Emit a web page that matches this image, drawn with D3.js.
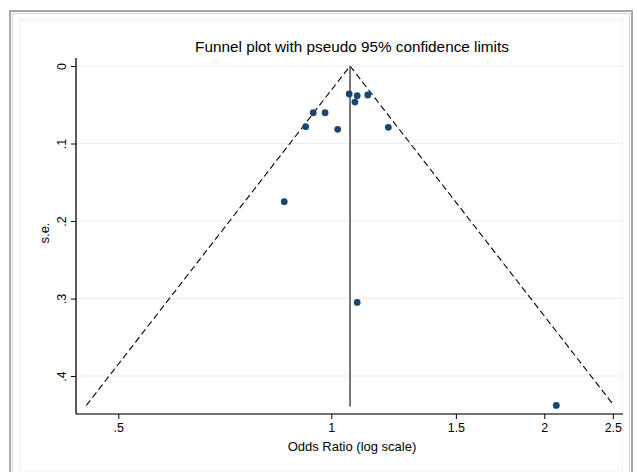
<!DOCTYPE html>
<html>
<head>
<meta charset="utf-8">
<script src="https://cdn.jsdelivr.net/npm/d3@7"></script>
<style>
  html, body { margin: 0; padding: 0; background: #fff; }
  svg { display: block; font-family: "Liberation Sans", Arial, sans-serif; }
</style>
</head>
<body>
<svg id="chart" width="637" height="472"></svg>
<script>
// ---- data ----
const studyOR = [1.060, 1.088, 1.126, 1.080, 0.943, 0.980, 0.920, 1.021, 1.204, 0.858, 1.088, 2.080];
const studySE = [0.0361, 0.0383, 0.0374, 0.0465, 0.0603, 0.0603, 0.0783, 0.0817, 0.0791, 0.175, 0.305, 0.438];
const pooledOR = 1.063;
const xTicks = [0.5, 1, 1.5, 2, 2.5];
const xTickLabels = [".5", "1", "1.5", "2", "2.5"];
const yTicks = [0, 0.1, 0.2, 0.3, 0.4];
const yTickLabels = ["0", ".1", ".2", ".3", ".4"];
const titleText = "Funnel plot with pseudo 95% confidence limits";
const xTitle = "Odds Ratio (log scale)";
const yTitle = "s.e.";

const svg = d3.select("#chart");
const W = 637, H = 472;

// ---- outer graph frame (Stata style) ----
svg.append("rect").attr("x", 0).attr("y", 0).attr("width", W).attr("height", H).attr("fill", "#fff");
svg.append("rect").attr("x", 10).attr("y", 11).attr("width", 622).attr("height", 480)
  .attr("fill", "none").attr("stroke", "#a6a6a6").attr("stroke-width", 2);
svg.append("rect").attr("x", 12.5).attr("y", 13.5).attr("width", 617).attr("height", 475)
  .attr("fill", "none").attr("stroke", "#d4d4d4").attr("stroke-width", 1);
svg.append("rect").attr("x", 19.5).attr("y", 19.5).attr("width", 603).attr("height", 451.5)
  .attr("fill", "none").attr("stroke", "#eef3f3").attr("stroke-width", 1);

// ---- scales ----
const xLeft = 76, xRight = 623;
const x = d3.scaleLog().domain([0.4357, 2.584]).range([xLeft, xRight]);
const y = d3.scaleLinear().domain([0, 0.449]).range([66, 414]);
const yTop = 58;

// gridlines
svg.append("g").selectAll("line").data(yTicks).join("line")
  .attr("x1", xLeft).attr("x2", xRight)
  .attr("y1", d => y(d)).attr("y2", d => y(d))
  .attr("stroke", "#e8f0f0").attr("stroke-width", 1.2);

// funnel (pseudo 95% limits)
const seMax = d3.max(studySE);
const lp = Math.log(pooledOR);
const funnel = [
  [Math.exp(lp - 1.96 * seMax), seMax],
  [pooledOR, 0],
  [Math.exp(lp + 1.96 * seMax), seMax]
];
svg.append("path")
  .attr("d", d3.line().x(d => x(d[0])).y(d => y(d[1]))(funnel))
  .attr("fill", "none").attr("stroke", "#000").attr("stroke-width", 1.1)
  .attr("stroke-dasharray", "6.5,3.5");

// pooled estimate vertical line
svg.append("line")
  .attr("x1", x(pooledOR)).attr("x2", x(pooledOR))
  .attr("y1", y(0)).attr("y2", y(seMax) + 1)
  .attr("stroke", "#555").attr("stroke-width", 1.6);

// points
svg.append("g").selectAll("circle").data(studyOR.map((d, i) => [d, studySE[i]])).join("circle")
  .attr("cx", d => x(d[0])).attr("cy", d => y(d[1])).attr("r", 3.4)
  .attr("fill", "#1a476f");

// x axis
const xAxis = d3.axisBottom(x).tickValues(xTicks)
  .tickFormat((d, i) => xTickLabels[i]).tickSize(5).tickSizeOuter(0).tickPadding(4);
const gx = svg.append("g").attr("transform", `translate(0,${y.range()[1]})`).call(xAxis);
gx.select(".domain").attr("d", `M${xLeft},0H${xRight}`).attr("stroke", "#444").attr("stroke-width", 1.3);
gx.selectAll(".tick line").attr("stroke", "#000");
gx.selectAll(".tick text").attr("font-size", 12.5).attr("fill", "#000")
  .attr("font-family", "Liberation Sans, Arial, sans-serif");

// y axis
const yAxis = d3.axisLeft(y).tickValues(yTicks)
  .tickFormat((d, i) => yTickLabels[i]).tickSize(5).tickSizeOuter(0);
const gy = svg.append("g").attr("transform", `translate(${xLeft},0)`).call(yAxis);
gy.select(".domain").attr("d", `M0,${yTop}V${y.range()[1]}`).attr("stroke", "#000").attr("stroke-width", 1.3);
gy.selectAll(".tick line").attr("stroke", "#000");
gy.selectAll(".tick text")
  .attr("font-size", 12.5).attr("fill", "#000")
  .attr("font-family", "Liberation Sans, Arial, sans-serif")
  .attr("x", null).attr("dy", null)
  .attr("text-anchor", "middle")
  .attr("transform", "translate(-10,0) rotate(-90)");

// titles
svg.append("text").attr("x", 352).attr("y", 52).attr("text-anchor", "middle")
  .attr("font-size", 15.3).attr("fill", "#000").text(titleText);
svg.append("text").attr("x", 352).attr("y", 451).attr("text-anchor", "middle")
  .attr("font-size", 13).attr("fill", "#000").text(xTitle);
svg.append("text").attr("transform", `translate(49,233) rotate(-90)`).attr("text-anchor", "middle")
  .attr("font-size", 13).attr("fill", "#000").text(yTitle);
</script>
</body>
</html>
